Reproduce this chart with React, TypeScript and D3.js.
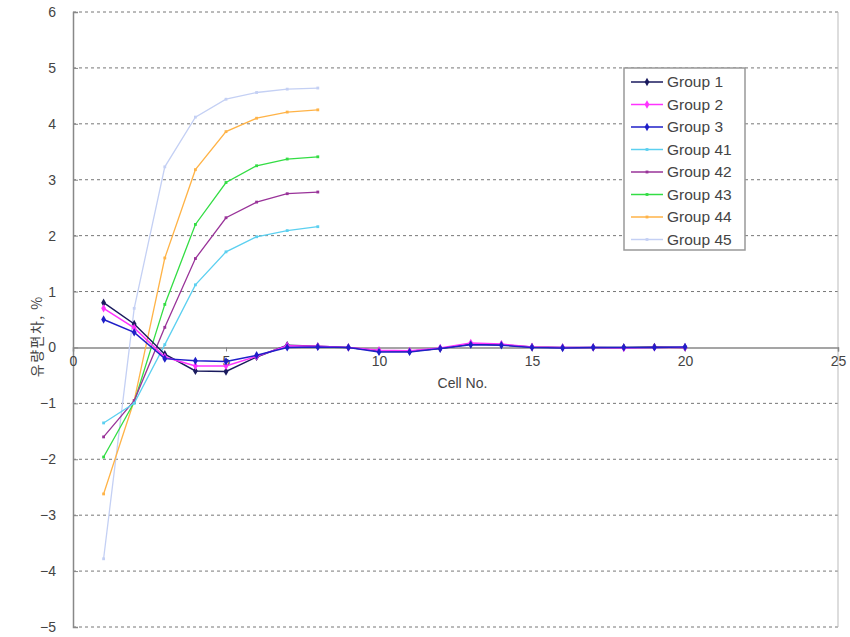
import { useEffect, useRef } from 'react';
import * as d3 from 'd3';

const cells = d3.range(1, 21);
const cellsShort = d3.range(1, 9);

const group1 = [0.8, 0.42, -0.12, -0.42, -0.43, -0.17, 0.04, 0.02, 0.0, -0.06, -0.07, -0.02, 0.06, 0.05, 0.01, 0.0, 0.0, 0.0, 0.01, 0.0];
const group2 = [0.7, 0.35, -0.17, -0.33, -0.33, -0.16, 0.03, 0.02, 0.0, -0.05, -0.06, -0.01, 0.08, 0.06, 0.01, 0.0, 0.0, -0.01, 0.0, 0.0];
const group3 = [0.5, 0.27, -0.2, -0.24, -0.25, -0.14, 0.0, 0.01, 0.0, -0.08, -0.08, -0.02, 0.05, 0.04, 0.0, -0.01, 0.0, 0.0, 0.0, 0.01];
const group41 = [-1.35, -1.0, 0.05, 1.12, 1.71, 1.98, 2.09, 2.16];
const group42 = [-1.6, -0.95, 0.36, 1.59, 2.32, 2.6, 2.75, 2.78];
const group43 = [-1.96, -0.98, 0.77, 2.2, 2.95, 3.25, 3.37, 3.41];
const group44 = [-2.62, -0.95, 1.6, 3.18, 3.86, 4.1, 4.21, 4.25];
const group45 = [-3.78, 0.7, 3.23, 4.12, 4.44, 4.56, 4.62, 4.64];

const seriesNames = ['Group 1', 'Group 2', 'Group 3', 'Group 41', 'Group 42', 'Group 43', 'Group 44', 'Group 45'];
const seriesColors = ['#1a1a5e', '#ff33ff', '#1f1fc8', '#5cd0f0', '#993399', '#33dd44', '#ffb347', '#c4d0f4'];

const xTicks = [0, 5, 10, 15, 20, 25];
const yTicks = d3.range(-5, 7);

export default function App() {
  const svgRef = useRef<SVGSVGElement>(null);

  useEffect(() => {
    document.body.style.margin = '0';
    if (!svgRef.current) return;
    const svg = d3.select(svgRef.current);
    svg.selectAll('*').remove();

    const left = 73, right = 838, top = 12, bottom = 627;
    const x = d3.scaleLinear().domain([0, 25]).range([left, right]);
    const y = d3.scaleLinear().domain([-5, 6]).range([bottom, top]);
    const font = 'Arial, "Liberation Sans", sans-serif';

    svg.append('rect').attr('width', 850).attr('height', 637).attr('fill', '#fff');

    // Grid
    svg.append('g')
      .selectAll('line')
      .data(yTicks.filter(t => t !== 0))
      .enter()
      .append('line')
      .attr('x1', left)
      .attr('x2', right)
      .attr('y1', d => y(d))
      .attr('y2', d => y(d))
      .style('stroke', '#777')
      .style('stroke-width', 1)
      .style('stroke-dasharray', '3,3');

    // Right border
    svg.append('line')
      .attr('x1', right).attr('x2', right)
      .attr('y1', top).attr('y2', bottom)
      .style('stroke', '#bbb');

    // Y axis
    const yAxis = svg.append('g')
      .attr('transform', `translate(${left},0)`)
      .call(d3.axisLeft(y).tickValues(yTicks).tickSize(-5).tickFormat(d3.format('d')));
    yAxis.selectAll('text')
      .style('fill', '#444')
      .style('font-family', font)
      .style('font-size', '14px')
      .attr('x', -17);

    // X axis at zero
    const xAxis = svg.append('g')
      .attr('transform', `translate(0,${y(0)})`)
      .call(d3.axisBottom(x).tickValues(xTicks).tickSize(4).tickFormat(d3.format('d')));
    xAxis.selectAll('text')
      .style('fill', '#444')
      .style('font-family', font)
      .style('font-size', '14px')
      .attr('y', 9);

    svg.selectAll('.domain').style('stroke', '#888').style('stroke-width', 1.5);
    svg.selectAll('.tick line').style('stroke', '#888');

    // Series
    const allSeries = [
      { values: group1, xs: cells },
      { values: group2, xs: cells },
      { values: group3, xs: cells },
      { values: group41, xs: cellsShort },
      { values: group42, xs: cellsShort },
      { values: group43, xs: cellsShort },
      { values: group44, xs: cellsShort },
      { values: group45, xs: cellsShort },
    ];

    const line = d3.line<[number, number]>()
      .x(d => x(d[0]))
      .y(d => y(d[1]));

    const diamond = d3.symbol().type(d3.symbolDiamond).size(20);
    const small = d3.symbol().type(d3.symbolSquare).size(8);

    // draw long series later so groups 1-3 sit on top
    const order = [7, 6, 5, 4, 3, 0, 1, 2];
    order.forEach(i => {
      const s = allSeries[i];
      const pts: [number, number][] = s.values.map((v, j) => [s.xs[j], v]);
      const g = svg.append('g');
      g.append('path')
        .datum(pts)
        .attr('d', line)
        .style('fill', 'none')
        .style('stroke', seriesColors[i])
        .style('stroke-width', i < 3 ? 1.5 : 1.3);
      g.selectAll('path.m')
        .data(pts)
        .enter()
        .append('path')
        .attr('class', 'm')
        .attr('transform', d => `translate(${x(d[0])},${y(d[1])})`)
        .attr('d', i < 3 ? diamond : small)
        .style('fill', seriesColors[i]);
    });

    // Axis titles
    svg.append('text')
      .attr('x', (left + right) / 2 + 7)
      .attr('y', 388)
      .attr('text-anchor', 'middle')
      .style('fill', '#444')
      .style('font-family', font)
      .style('font-size', '14px')
      .text('Cell No.');

    svg.append('text')
      .attr('transform', `translate(42,${y(0.2)}) rotate(-90)`)
      .attr('text-anchor', 'middle')
      .style('fill', '#444')
      .style('font-family', '"Noto Sans CJK KR", sans-serif')
      .style('font-size', '14px')
      .style('letter-spacing', '1.5px')
      .text('유량편차, %');

    // Legend
    const lg = svg.append('g').attr('transform', 'translate(624,68)');
    lg.append('rect')
      .attr('width', 121)
      .attr('height', 182)
      .style('fill', '#fff')
      .style('stroke', '#999')
      .style('stroke-width', 1.5);
    seriesNames.forEach((name, i) => {
      const cy = 14 + i * 22.5;
      lg.append('line')
        .attr('x1', 7).attr('x2', 39)
        .attr('y1', cy).attr('y2', cy)
        .style('stroke', seriesColors[i])
        .style('stroke-width', 1.5);
      lg.append('path')
        .attr('transform', `translate(23,${cy})`)
        .attr('d', i < 3 ? diamond : small)
        .style('fill', seriesColors[i]);
      lg.append('text')
        .attr('x', 43)
        .attr('y', cy + 5)
        .style('fill', '#444')
        .style('font-family', font)
        .style('font-size', '15.5px')
        .text(name);
    });
  }, []);

  return <svg ref={svgRef} width={850} height={637} style={{ display: 'block' }} />;
}
